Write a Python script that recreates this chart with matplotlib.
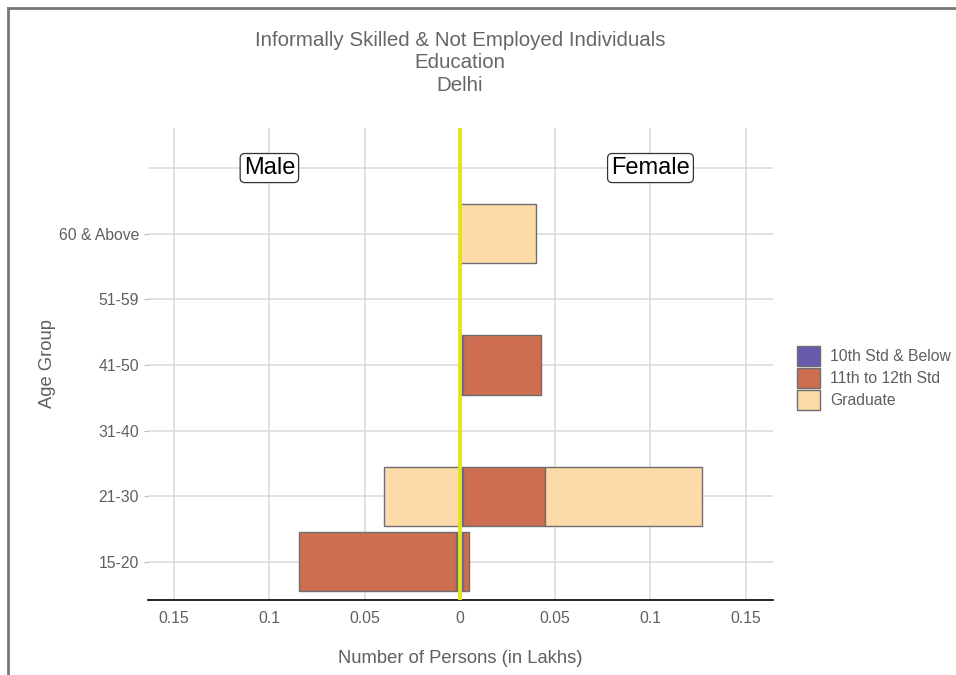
import matplotlib.pyplot as plt
from matplotlib.patches import Patch
from matplotlib.lines import Line2D

plt.rcParams['font.family'] = ['Liberation Sans', 'DejaVu Sans']

age_groups = ['15-20', '21-30', '31-40', '41-50', '51-59', '60 & Above']
levels = ['10th Std & Below', '11th to 12th Std', 'Graduate']
colors = ['#6a5aad', '#cd6e50', '#fddba8']

# values in lakhs, one list per education level, ordered like age_groups
male = {
    '10th Std & Below': [0.002, 0, 0, 0, 0, 0],
    '11th to 12th Std': [0.0825, 0, 0, 0, 0, 0],
    'Graduate': [0, 0.040, 0, 0, 0, 0],
}
female = {
    '10th Std & Below': [0.0015, 0.0015, 0, 0.0015, 0, 0],
    '11th to 12th Std': [0.003, 0.043, 0, 0.041, 0, 0],
    'Graduate': [0, 0.0825, 0, 0, 0, 0.040],
}
x_ticks = [-0.15, -0.1, -0.05, 0, 0.05, 0.1, 0.15]
x_ticklabels = ['0.15', '0.1', '0.05', '0', '0.05', '0.1', '0.15']

grey_txt = '#5f5f5f'
edge = '#6e6e6e'

fig = plt.figure(figsize=(9.56, 6.75), dpi=100)
ax = fig.add_axes([148/956, 1 - 600/675, (773-148)/956, (600-128)/675])

ypos = list(range(1, len(age_groups) + 1))

for side, data, sign in [('m', male, -1), ('f', female, 1)]:
    base = [0.0] * len(age_groups)
    for lev, col in zip(levels, colors):
        vals = data[lev]
        for i, v in enumerate(vals):
            if v > 0:
                ax.barh(ypos[i], sign * v, left=sign * base[i], height=0.9,
                        color=col, edgecolor=edge, linewidth=1.0, zorder=3)
        base = [b + v for b, v in zip(base, vals)]

ax.axvline(0, color='#e3e31c', linewidth=2.8, zorder=5)
ax.axhline(7, color='#d9d9d9', linewidth=1.1, zorder=0)

ax.set_xlim(-0.1637, 0.1643)
ax.set_ylim(0.42, 7.61)
ax.set_xticks(x_ticks)
ax.set_xticklabels(x_ticklabels)
ax.set_yticks(ypos)
ax.set_yticklabels(age_groups)
ax.grid(True, color='#d9d9d9', linewidth=1.1, zorder=0)
ax.set_axisbelow(True)
for s in ['top', 'right', 'left']:
    ax.spines[s].set_visible(False)
ax.spines['bottom'].set_color('black')
ax.spines['bottom'].set_linewidth(1.2)
ax.tick_params(axis='both', colors='#bbbbbb', labelcolor=grey_txt, labelsize=11.3, length=3)
ax.tick_params(axis='x', length=0, pad=8)

ax.set_xlabel('Number of Persons (in Lakhs)', fontsize=13.2, color=grey_txt, labelpad=17)
ax.set_ylabel('Age Group', fontsize=13.2, color=grey_txt, labelpad=2)

box = dict(boxstyle='round,pad=0.15,rounding_size=0.2', facecolor='white', edgecolor='#333333', linewidth=0.9)
ax.text(-0.1, 7, 'Male', fontsize=17, ha='center', va='center', color='black', bbox=box, zorder=6)
ax.text(0.1, 7, 'Female', fontsize=17, ha='center', va='center', color='black', bbox=box, zorder=6)

fig.text(460/956, 1 - 63/675, 'Informally Skilled & Not Employed Individuals\nEducation\nDelhi',
         ha='center', va='center', fontsize=14.8, color='#666666', linespacing=1.22)

handles = [Patch(facecolor=c, edgecolor=edge, linewidth=1.0) for c in colors]
fig.legend(handles, levels, loc='center left', bbox_to_anchor=(789/956, 1 - 378/675),
           frameon=False, fontsize=11.3, labelcolor=grey_txt, handlelength=1.5,
           handleheight=1.6, handletextpad=0.6, labelspacing=0.1, borderpad=0)

# frame around the picture (left and top only)
fig.add_artist(Line2D([8/956, 8/956], [0, 1 - 8/675], transform=fig.transFigure, color='#777777', linewidth=2))
fig.add_artist(Line2D([8/956, 1], [1 - 8/675, 1 - 8/675], transform=fig.transFigure, color='#777777', linewidth=2))

fig.savefig('out.png', dpi=100)
